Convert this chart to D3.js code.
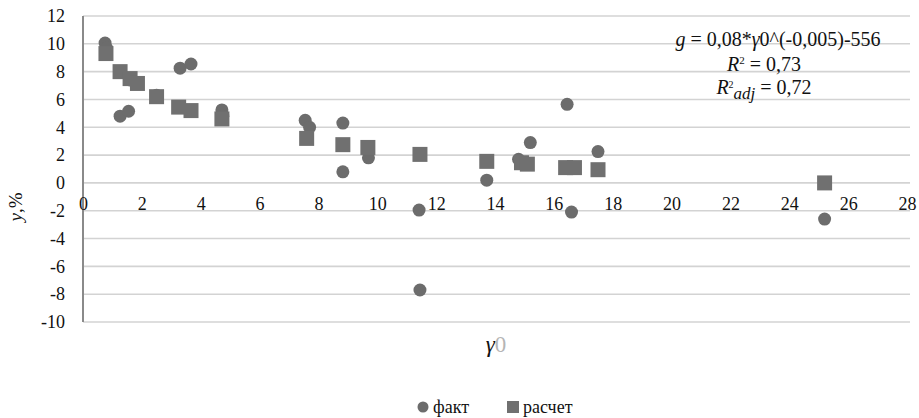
<!DOCTYPE html>
<html>
<head>
<meta charset="utf-8">
<script src="https://cdn.jsdelivr.net/npm/d3@7"></script>
<style>
  body { margin: 0; background: #fff; }
  svg text { font-family: "Liberation Serif", "Times New Roman", Tinos, "DejaVu Serif", "Noto Serif", FreeSerif, Times, serif !important; fill: #111; }
</style>
</head>
<body>
<div id="chart"></div>
<script>
// fact points (circles)
const factX = [0.75, 0.8, 1.26, 1.55, 1.6, 2.5, 3.3, 3.67, 4.72, 4.75, 7.55, 7.7, 8.83, 8.83, 9.7, 11.42, 11.45, 13.72, 14.8, 15.2, 16.45, 16.6, 17.5, 25.2];
const factY = [10.05, 9.7, 4.8, 5.15, 7.4, 6.3, 8.25, 8.55, 5.25, 4.8, 4.5, 4.0, 4.3, 0.8, 1.8, -1.95, -7.7, 0.2, 1.7, 2.9, 5.65, -2.1, 2.25, -2.6];

// calculated points (squares)
const calcX = [0.78, 1.26, 1.6, 1.85, 2.5, 3.25, 3.67, 4.72, 7.6, 8.83, 9.68, 11.45, 13.72, 14.9, 15.1, 16.4, 16.7, 17.5, 25.2];
const calcY = [9.3, 8.0, 7.5, 7.15, 6.2, 5.45, 5.2, 4.6, 3.2, 2.75, 2.55, 2.05, 1.55, 1.45, 1.35, 1.1, 1.1, 0.95, 0.0];

const xTicks = d3.range(0, 29, 2);
const yTicks = d3.range(-10, 13, 2);

const width = 919, height = 418;

const svg = d3.select('#chart')
    .append('svg')
    .attr('width', width)
    .attr('height', height);

const x = d3.scaleLinear().domain([0, 28]).range([83, 907]);
const y = d3.scaleLinear().domain([-10, 12]).range([322, 16]);

// horizontal gridlines
svg.append('g')
    .selectAll('line')
    .data(yTicks)
    .enter().append('line')
    .attr('x1', x(0))
    .attr('x2', x(28) + 3)
    .attr('y1', d => y(d))
    .attr('y2', d => y(d))
    .attr('stroke', '#d3d3d3')
    .attr('stroke-width', 1.6);

// vertical axis line
svg.append('line')
    .attr('x1', x(0)).attr('x2', x(0))
    .attr('y1', y(12)).attr('y2', y(-10))
    .attr('stroke', '#8a8a8a')
    .attr('stroke-width', 2);

// y axis labels
const yAxis = svg.append('g')
    .attr('transform', `translate(${x(0) - 18},0)`)
    .call(d3.axisLeft(y).tickValues(yTicks).tickSize(0).tickPadding(0).tickFormat(d => String(d)));
yAxis.select('.domain').remove();
yAxis.selectAll('text')
    .style('font-size', '18px')
    .attr('fill', '#111');

// x axis labels along y = 0
const xAxis = svg.append('g')
    .attr('transform', `translate(0,${y(0)})`)
    .call(d3.axisBottom(x).tickValues(xTicks).tickSize(0).tickPadding(14));
xAxis.select('.domain').remove();
xAxis.selectAll('text')
    .style('font-size', '18px')
    .attr('fill', '#111');

// fact circles
svg.append('g')
    .selectAll('circle')
    .data(factX.map((d, i) => [d, factY[i]]))
    .enter().append('circle')
    .attr('cx', d => x(d[0]))
    .attr('cy', d => y(d[1]))
    .attr('r', 6.5)
    .attr('fill', '#6c6c6c');

// calc squares
const sq = 15;
svg.append('g')
    .selectAll('rect')
    .data(calcX.map((d, i) => [d, calcY[i]]))
    .enter().append('rect')
    .attr('x', d => x(d[0]) - sq / 2)
    .attr('y', d => y(d[1]) - sq / 2)
    .attr('width', sq)
    .attr('height', sq)
    .attr('fill', '#707070');

// y axis title
const yt = svg.append('text')
    .attr('transform', 'translate(22,207) rotate(-90)')
    .style('text-anchor', 'middle')
    .style('font-size', '19px');
yt.append('tspan').style('font-style', 'italic').text('y');
yt.append('tspan').text(',%');

// x axis title
const xt = svg.append('text')
    .attr('x', 496)
    .attr('y', 352)
    .style('text-anchor', 'middle')
    .style('font-size', '23px');
xt.append('tspan').style('font-style', 'italic').text('γ');
xt.append('tspan').attr('fill', '#b5b5b5').text('0');

// regression annotation
const ann = svg.append('g').style('font-size', '20px');
const l1 = ann.append('text').attr('x', 778).attr('y', 46).style('text-anchor', 'middle');
l1.append('tspan').style('font-style', 'italic').text('g');
l1.append('tspan').text(' = 0,08*');
l1.append('tspan').style('font-style', 'italic').text('γ');
l1.append('tspan').text('0^(-0,005)-556');

const l2 = ann.append('text').attr('x', 764).attr('y', 71).style('text-anchor', 'middle');
l2.append('tspan').style('font-style', 'italic').text('R');
l2.append('tspan').attr('dy', -7).style('font-size', '11px').text('2');
l2.append('tspan').attr('dy', 7).text(' = 0,73');

const l3 = ann.append('text').attr('x', 764).attr('y', 94).style('text-anchor', 'middle');
l3.append('tspan').style('font-style', 'italic').text('R');
l3.append('tspan').attr('dy', -6).style('font-size', '10px').text('2');
l3.append('tspan').attr('dy', 11).style('font-style', 'italic').style('font-size', '17px').text('adj');
l3.append('tspan').attr('dy', -5).text(' = 0,72');

// legend
const legend = svg.append('g').style('font-size', '18px');
legend.append('circle').attr('cx', 423).attr('cy', 407).attr('r', 5.5).attr('fill', '#6c6c6c');
legend.append('text').attr('x', 433).attr('y', 413).text('факт');
legend.append('rect').attr('x', 507).attr('y', 401).attr('width', 12).attr('height', 12).attr('fill', '#707070');
legend.append('text').attr('x', 523).attr('y', 413).text('расчет');
</script>
</body>
</html>
